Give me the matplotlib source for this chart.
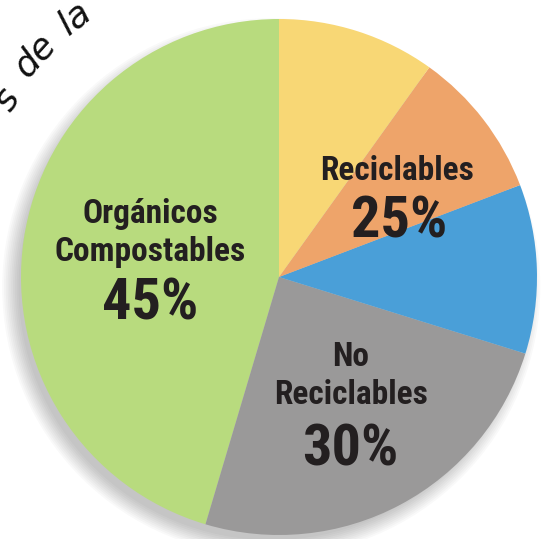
import matplotlib.pyplot as plt
import numpy as np
from matplotlib import font_manager as fm
from matplotlib.patches import Circle

# wedge sizes as drawn, counterclockwise from 12 o'clock
wedges = ["Orgánicos Compostables", "No Reciclables", "Reciclables A", "Reciclables B", "Reciclables C"]
sizes = [45.4, 24.8, 10.6, 9.3, 9.9]
colors = ["#B8DB7E", "#9A9999", "#4A9FD8", "#EEA46A", "#F8D775"]

# printed labels
names = ["Orgánicos\nCompostables", "Reciclables", "No\nReciclables"]
pcts = ["45%", "25%", "30%"]

# handwritten title fragment along the rim
title_words = ["s", "de", "la"]

TXT = "#231F20"


def condensed_bold_file():
    """Look for an installed bold condensed/narrow face."""
    best = None
    for f in fm.fontManager.ttflist:
        base = f.fname.rsplit("/", 1)[-1].lower()
        if not ("condensed" in base or "narrow" in base):
            continue
        if any(k in base for k in ("extra", "semi", "ultra", "italic", "oblique")):
            continue
        if "bold" not in base:
            continue
        score = 0 if "liberation" in base else 1 if "roboto" in base else 2
        if best is None or score < best[0]:
            best = (score, f.fname)
    return best[1] if best else None


cfile = condensed_bold_file()


def label_font(size):
    if cfile:
        return fm.FontProperties(fname=cfile, size=size)
    return fm.FontProperties(family="DejaVu Sans", weight="bold", size=size * 0.85)


fig = plt.figure(figsize=(5.44, 5.39), dpi=100)
ax = fig.add_axes([0, 0, 1, 1])

# soft shadow towards the lower left
for i in range(10):
    ax.add_patch(Circle((-0.03, -0.04), 0.98 + i * 0.007, color="#000000",
                        alpha=0.022, lw=0, zorder=0))

ax.pie(sizes, colors=colors, startangle=90, counterclock=True,
       wedgeprops=dict(linewidth=0), radius=1.0)

# label placement (data units, pie radius = 1)
name_pos = [(-0.50, 0.171), (0.457, 0.411), (0.279, -0.384)]
pct_pos = [(-0.50, -0.105), (0.465, 0.213), (0.275, -0.671)]

for (x, y), s in zip(name_pos, names):
    ax.text(x, y, s, ha="center", va="center", fontproperties=label_font(24),
            color=TXT, linespacing=1.25, zorder=5)
for (x, y), s in zip(pct_pos, pcts):
    ax.text(x, y, s, ha="center", va="center", fontproperties=label_font(42),
            color=TXT, zorder=5)

# handwritten fragment on an arc
word_angles = [146.9, 137.8, 128.2]
word_radii = [1.26, 1.28, 1.28]
for w, a, r in zip(title_words, word_angles, word_radii):
    t = np.deg2rad(a)
    ax.text(r * np.cos(t), r * np.sin(t), w, ha="center", va="center",
            rotation=a - 90, fontsize=26, style="italic", color="#111111",
            family=["DejaVu Sans"], zorder=5)

ax.set_xlim(-279 / 258, (544 - 279) / 258)
ax.set_ylim(-(539 - 277) / 258, 277 / 258)
ax.set_aspect("auto")
ax.axis("off")

fig.savefig("out.png", dpi=100)
